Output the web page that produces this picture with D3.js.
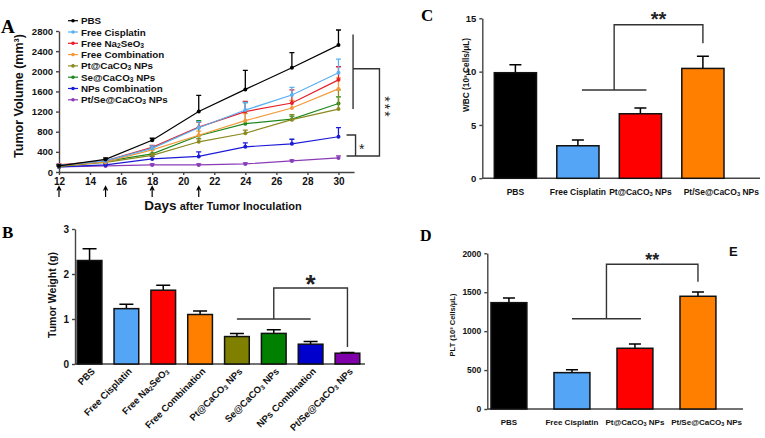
<!DOCTYPE html>
<html>
<head>
<meta charset="utf-8">
<script src="https://cdn.jsdelivr.net/npm/d3@7"></script>
<style>
  body { margin: 0; background: #fff; }
  svg { display: block; font-family: Arial, "Liberation Sans", sans-serif; }
  .axis path, .axis line { stroke: #444; stroke-width: 1.4; }
  .axis text { font-weight: bold; fill: #111; }
  .bracket { fill: none; stroke: #333; stroke-width: 1.4; }
  .bold { font-weight: bold; fill: #111; }
  .panel { font-family: "Times New Roman", "Liberation Serif", serif; font-weight: bold; }
</style>
</head>
<body>
<script>
// ---------- panel A: tumor volume over time ----------
const days = [12, 15, 18, 21, 24, 27, 30];
const injectionDays = [12, 15, 18, 21];
const groupNames = ["PBS", "Free Cisplatin", "Free Na_2SeO_3", "Free Combination",
  "Pt@CaCO_3 NPs", "Se@CaCO_3 NPs", "NPs Combination", "Pt/Se@CaCO_3 NPs"];
const lineColors = ["#000000", "#5ab0f0", "#e8202a", "#f39a3c", "#8a8a20", "#1e8a1e", "#1b1bd6", "#8a3cb8"];

// mean volume (mm3) per group, one array each
const pbsVolume = [120, 250, 630, 1200, 1640, 2070, 2520];
const cisplatinVolume = [130, 220, 470, 880, 1230, 1530, 1970];
const seleniteVolume = [140, 220, 490, 890, 1200, 1370, 1830];
const freeComboVolume = [130, 200, 440, 730, 1020, 1270, 1650];
const ptNpVolume = [110, 190, 330, 600, 770, 1040, 1250];
const seNpVolume = [110, 210, 360, 720, 960, 1050, 1360];
const npComboVolume = [100, 140, 260, 310, 500, 560, 700];
const ptSeNpVolume = [100, 120, 140, 140, 160, 220, 280];

// upper error (mm3)
const pbsErr = [20, 30, 40, 320, 380, 300, 300];
const cisplatinErr = [20, 30, 50, 120, 150, 150, 270];
const seleniteErr = [20, 30, 40, 100, 200, 260, 260];
const freeComboErr = [20, 30, 50, 80, 140, 150, 220];
const ptNpErr = [20, 30, 40, 60, 60, 100, 380];
const seNpErr = [20, 40, 80, 300, 420, 60, 130];
const npComboErr = [15, 20, 50, 90, 80, 90, 180];
const ptSeNpErr = [10, 10, 20, 20, 20, 20, 40];

const volumeSeries = [pbsVolume, cisplatinVolume, seleniteVolume, freeComboVolume, ptNpVolume, seNpVolume, npComboVolume, ptSeNpVolume];
const volumeErrors = [pbsErr, cisplatinErr, seleniteErr, freeComboErr, ptNpErr, seNpErr, npComboErr, ptSeNpErr];

// ---------- panel B: tumor weight ----------
const weightMeans = [2.3, 1.23, 1.64, 1.1, 0.61, 0.68, 0.44, 0.24];
const weightErrors = [0.26, 0.1, 0.11, 0.08, 0.07, 0.08, 0.06, 0.015];
const barColors = ["#000000", "#55a5f7", "#ff0000", "#ff8000", "#808000", "#008000", "#0000cc", "#7f00aa"];

// ---------- panels C and D: blood counts ----------
const bloodGroups = ["PBS", "Free Cisplatin", "Pt@CaCO_3 NPs", "Pt/Se@CaCO_3 NPs"];
const bloodColors = ["#000000", "#55a5f7", "#ff0000", "#ff8000"];
const wbcMeans = [9.9, 3.05, 6.05, 10.3];
const wbcErrors = [0.75, 0.55, 0.55, 1.15];
const pltMeans = [1366, 467, 780, 1448];
const pltErrors = [60, 38, 55, 55];

const svg = d3.select("body").append("svg").attr("width", 765).attr("height", 438);
svg.append("rect").attr("width", 765).attr("height", 438).attr("fill", "#fff");

// writes "CaCO_3" style strings with real subscripts
function richText(sel, str) {
  str.split(/(_\d)/).forEach((part) => {
    if (!part) return;
    if (part[0] === "_") {
      sel.append("tspan").attr("baseline-shift", "-18%").attr("font-size", "68%").text(part.slice(1));
    } else {
      sel.append("tspan").text(part);
    }
  });
}

function styleAxis(g, size) {
  g.attr("font-family", null).attr("font-size", size);
}

// ================= A =================
const xA = d3.scaleLinear().domain([12, 31]).range([59, 354]);
const yA = d3.scaleLinear().domain([0, 2800]).range([172, 31]);

svg.append("g").attr("class", "axis").attr("transform", "translate(0,172)")
  .call(d3.axisBottom(xA).tickValues(d3.range(12, 31, 2)).tickFormat(d3.format("d")).tickSize(3).tickSizeOuter(0))
  .call((g) => styleAxis(g, 10));
svg.append("g").attr("class", "axis").attr("transform", "translate(59,0)")
  .call(d3.axisLeft(yA).tickValues(d3.range(0, 2801, 400)).tickFormat(d3.format("d")).tickSize(3).tickSizeOuter(0))
  .call((g) => styleAxis(g, 9.5));

const line = d3.line().x((d) => xA(d.day)).y((d) => yA(d.v));

// draw from the bottom group up so PBS sits on top
d3.range(groupNames.length).reverse().forEach((i) => {
  const pts = days.map((day, j) => ({ day: day, v: volumeSeries[i][j], e: volumeErrors[i][j] }));
  const g = svg.append("g").attr("stroke", lineColors[i]).attr("fill", lineColors[i]);
  g.append("path").attr("d", line(pts)).attr("fill", "none").attr("stroke-width", 1.2);
  g.selectAll(".err").data(pts).enter().append("path")
    .attr("stroke-width", 1.3).attr("fill", "none")
    .attr("d", (d) => `M${xA(d.day)},${yA(d.v)}V${yA(d.v + d.e)}M${xA(d.day) - 2.5},${yA(d.v + d.e)}h5`);
  g.selectAll("circle").data(pts).enter().append("circle")
    .attr("cx", (d) => xA(d.day)).attr("cy", (d) => yA(d.v)).attr("r", 2).attr("stroke", "none");
});

// legend
const legend = svg.append("g").selectAll("g").data(groupNames).enter().append("g")
  .attr("transform", (d, i) => `translate(68,${20.7 + i * 11.3})`);
legend.append("line").attr("x1", 0).attr("x2", 10)
  .attr("stroke", (d, i) => lineColors[i]).attr("stroke-width", 1.2);
legend.append("circle").attr("cx", 5).attr("r", 1.8).attr("fill", (d, i) => lineColors[i]);
legend.append("text").attr("class", "bold").attr("x", 13).attr("y", 3.5).attr("font-size", 9.8)
  .each(function (d) { richText(d3.select(this), d); });

// injection arrows
svg.append("g").selectAll("path").data(injectionDays).enter().append("path")
  .attr("d", (d) => `M${xA(d)},197V187M${xA(d) - 2},190.5L${xA(d)},186.5L${xA(d) + 2},190.5`)
  .attr("stroke", "#000").attr("stroke-width", 1.2).attr("fill", "none");

// significance brackets
svg.append("path").attr("class", "bracket")
  .attr("d", `M${xA(30.94)},${yA(2730)}V${yA(1250)}`);
svg.append("path").attr("class", "bracket")
  .attr("d", `M${xA(30.94)},${yA(2050)}H${xA(32.64)}V${yA(318)}H${xA(30.52)}`);
svg.append("path").attr("class", "bracket")
  .attr("d", `M${xA(30.52)},${yA(735)}H${xA(31.1)}V${yA(318)}`);
svg.append("text").attr("x", 361.7).attr("y", 153.5).attr("text-anchor", "middle")
  .attr("font-size", 14).attr("fill", "#222").text("*");
svg.append("text").attr("transform", "translate(380,107.5) rotate(90)").attr("text-anchor", "middle")
  .attr("font-size", 14).attr("letter-spacing", 2).attr("fill", "#222").text("***");

// titles
svg.append("text").attr("class", "bold").attr("font-size", 12.5).attr("text-anchor", "middle")
  .attr("transform", "translate(22.5,96) rotate(-90)").text("Tumor Volume (mm³)");
const xt = svg.append("text").attr("class", "bold").attr("x", 223).attr("y", 210).attr("text-anchor", "middle");
xt.append("tspan").attr("font-size", 13.5).text("Days");
xt.append("tspan").attr("font-size", 11).text(" after Tumor Inoculation");
svg.append("text").attr("class", "panel").attr("x", 1).attr("y", 33).attr("font-size", 19).text("A");

// ================= bar panel helper =================
function barPanel(opt) {
  const x = d3.scaleBand().domain(opt.groups).range(opt.band)
    .paddingInner(opt.padIn).paddingOuter(opt.padOut);
  const y = d3.scaleLinear().domain([0, opt.max]).range([opt.bottom, opt.top]);
  const g = svg.append("g");

  g.append("g").attr("class", "axis").attr("transform", `translate(${opt.axisX},0)`)
    .call(d3.axisLeft(y).tickValues(opt.ticks).tickFormat(d3.format("d")).tickSize(3).tickSizeOuter(0))
    .call((a) => styleAxis(a, opt.tickFont));
  g.append("line").attr("x1", opt.axisX).attr("x2", opt.axisEnd)
    .attr("y1", opt.bottom).attr("y2", opt.bottom).attr("stroke", "#444").attr("stroke-width", 1.4);

  const rows = opt.groups.map((name, i) => ({ name: name, v: opt.means[i], e: opt.errors[i], c: opt.colors[i] }));
  g.selectAll(".err").data(rows).enter().append("path")
    .attr("stroke", "#000").attr("stroke-width", 1.5).attr("fill", "none")
    .attr("d", (d) => {
      const cx = x(d.name) + x.bandwidth() / 2;
      return `M${cx},${y(d.v)}V${y(d.v + d.e)}M${cx - opt.cap / 2},${y(d.v + d.e)}h${opt.cap}`;
    });
  g.selectAll("rect").data(rows).enter().append("rect")
    .attr("x", (d) => x(d.name)).attr("width", x.bandwidth())
    .attr("y", (d) => y(d.v)).attr("height", (d) => y(0) - y(d.v))
    .attr("fill", (d) => d.c).attr("stroke", "#111").attr("stroke-width", 1.5);

  // bracket: from left group pair to the target bar
  const cx = (n) => x(opt.groups[n]) + x.bandwidth() / 2;
  const b = opt.bracket;
  const left = cx(b.from) + (b.fromOff || 0), right = cx(b.to) + (b.toOff || 0);
  const mid = (left + right) / 2, tx = cx(b.target);
  g.append("path").attr("class", "bracket").attr("d", `M${left},${y(b.low)}H${right}`);
  g.append("path").attr("class", "bracket")
    .attr("d", `M${mid},${y(b.low)}V${y(b.high)}H${tx}V${y(b.end)}`);
  g.append("text").attr("x", (mid + tx) / 2).attr("y", y(b.high) + b.starDy)
    .attr("text-anchor", "middle").attr("font-size", b.starSize).attr("font-weight", "bold")
    .attr("fill", "#222").text(b.star);

  return { x: x, y: y, g: g, cx: cx };
}

// horizontal group labels; the long last one is pushed to the axis end
function flatLabels(p, groups, size, yPos, axisEnd) {
  p.g.selectAll(".lab").data(groups).enter().append("text")
    .attr("class", "bold").attr("font-size", size)
    .attr("text-anchor", (d, i) => (i === groups.length - 1 ? "end" : "middle"))
    .attr("x", (d, i) => (i === groups.length - 1 ? axisEnd - 1 : p.cx(i))).attr("y", yPos)
    .each(function (d) { richText(d3.select(this), d); });
}

// ================= B =================
const pB = barPanel({
  groups: groupNames, means: weightMeans, errors: weightErrors, colors: barColors,
  band: [75, 362], padIn: 0.33, padOut: 0.06, axisX: 75, axisEnd: 365,
  max: 3, ticks: [0, 1, 2, 3], bottom: 364, top: 229, tickFont: 10, cap: 14,
  bracket: { from: 4, to: 6, target: 7, low: 1.0, high: 1.69, end: 0.38, star: "*", starSize: 26, starDy: 5 }
});
pB.g.selectAll(".lab").data(groupNames).enter().append("text")
  .attr("class", "bold").attr("font-size", 9.5).attr("text-anchor", "end")
  .attr("transform", (d, i) => `translate(${pB.cx(i) + 6},372) rotate(-45)`)
  .each(function (d) { richText(d3.select(this), d); });
svg.append("text").attr("class", "bold").attr("font-size", 10.5).attr("text-anchor", "middle")
  .attr("transform", "translate(55.5,295) rotate(-90)").text("Tumor Weight (g)");
svg.append("text").attr("class", "panel").attr("x", 2).attr("y", 238).attr("font-size", 17).text("B");

// ================= C =================
const pC = barPanel({
  groups: bloodGroups, means: wbcMeans, errors: wbcErrors, colors: bloodColors,
  band: [484.3, 734], padIn: 0.325, padOut: 0.16, axisX: 482.3, axisEnd: 760,
  max: 15, ticks: [0, 5, 10, 15], bottom: 178.3, top: 18.3, tickFont: 9.5, cap: 12,
  bracket: { from: 1, to: 2, fromOff: 4, toOff: 6, target: 3, low: 8.28, high: 14.4, end: 12.65, star: "**", starSize: 20, starDy: 1 }
});
flatLabels(pC, bloodGroups, 8.5, 195, 760);
svg.append("text").attr("class", "bold").attr("font-size", 8.3).attr("text-anchor", "middle")
  .attr("transform", "translate(468.5,75) rotate(-90)").text("WBC (10³ Cells/μL)");
svg.append("text").attr("class", "panel").attr("x", 421).attr("y", 21).attr("font-size", 17).text("C");

// ================= D =================
const pD = barPanel({
  groups: bloodGroups, means: pltMeans, errors: pltErrors, colors: bloodColors,
  band: [487.2, 719.7], padIn: 0.43, padOut: 0.06, axisX: 487.3, axisEnd: 743,
  max: 2000, ticks: [0, 500, 1000, 1500, 2000], bottom: 409, top: 253.3, tickFont: 8.5, cap: 12,
  bracket: { from: 1, to: 2, toOff: 6, target: 3, low: 1160, high: 1860, end: 1636, star: "**", starSize: 18, starDy: 2 }
});
flatLabels(pD, bloodGroups, 8, 424.5, 743);
svg.append("text").attr("class", "bold").attr("font-size", 7.5).attr("text-anchor", "middle")
  .attr("transform", "translate(454.5,325) rotate(-90)").text("PLT (10³ Cells/μL)");
svg.append("text").attr("class", "panel").attr("x", 420).attr("y", 241).attr("font-size", 16).text("D");
svg.append("text").attr("class", "bold").attr("x", 729).attr("y", 256).attr("font-size", 13).text("E");
</script>
</body>
</html>
